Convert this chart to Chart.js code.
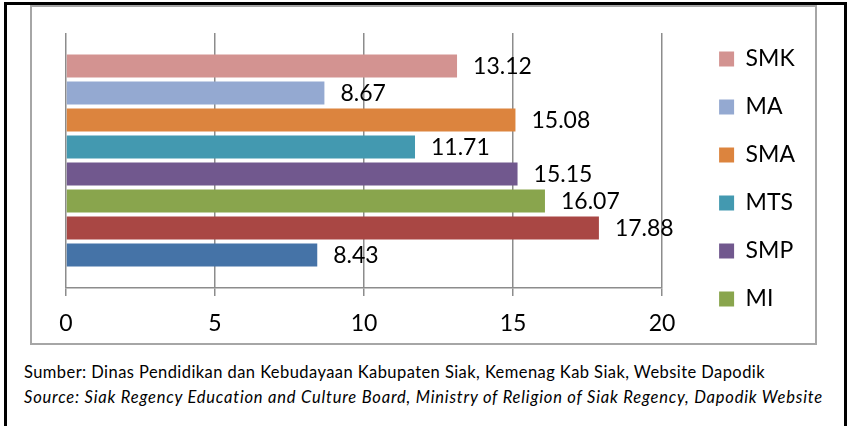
<!DOCTYPE html>
<html>
<head>
<meta charset="utf-8">
<script src="https://cdn.jsdelivr.net/npm/chart.js@4.4.1/dist/chart.umd.min.js"></script>
<style>
  html, body { margin: 0; padding: 0; background: #fff; }
  #page { position: relative; width: 849px; height: 426px; overflow: hidden; font-family: Lato, sans-serif; }
  #outer { position: absolute; left: 4px; top: 2px; width: 843px; height: 430px; box-sizing: border-box;
           border: 3px solid #000; }
  #frame { position: absolute; left: 30px; top: 5px; width: 787px; height: 340px; box-sizing: border-box;
           border: 2px solid #a6a6a6; }
  #wrap { position: absolute; left: 0; top: 0; width: 783px; height: 336px; }
  .note { position: absolute; left: 24px; white-space: nowrap; color: #000; font-size: 16.5px; }
  #src1 { top: 362px; letter-spacing: 0.43px; }
  #src2 { top: 387px; font-style: italic; letter-spacing: 0.8px; }
</style>
</head>
<body>
<div id="page">
  <div id="outer"></div>
  <div id="frame"><div id="wrap"><canvas id="chart"></canvas></div></div>
  <div class="note" id="src1">Sumber: Dinas Pendidikan dan Kebudayaan Kabupaten Siak, Kemenag Kab Siak, Website Dapodik</div>
  <div class="note" id="src2">Source: Siak Regency Education and Culture Board, Ministry of Religion of Siak Regency, Dapodik Website</div>
</div>
<script>
// series, top to bottom as drawn; the last two are not in the legend
const seriesNames = ['SMK', 'MA', 'SMA', 'MTS', 'SMP', 'MI', 'SD', 'TK'];
const seriesValues = [13.12, 8.67, 15.08, 11.71, 15.15, 16.07, 17.88, 8.43];
const seriesColors = ['#d39391', '#94a9d1', '#dc843e', '#4399b0', '#71588e', '#89a54d', '#a94744', '#4573a7'];
const legendCount = 6;
const xTicks = [0, 5, 10, 15, 20];

const font = 'Lato';
Chart.defaults.font.family = font;
Chart.defaults.color = '#000';

const gridColor = '#8c8c8c';

const barLabels = {
  id: 'barLabels',
  afterDatasetsDraw(chart) {
    const ctx = chart.ctx;
    ctx.save();
    ctx.font = '23px ' + font;
    ctx.fillStyle = '#000';
    ctx.textBaseline = 'middle';
    ctx.textAlign = 'left';
    chart.data.datasets.forEach((ds, i) => {
      chart.getDatasetMeta(i).data.forEach((bar, j) => {
        ctx.fillText(ds.data[j].toFixed(2), bar.x + 16, bar.y + 1);
      });
    });
    ctx.restore();
  }
};

const datasets = seriesNames.map((name, i) => ({
  label: name,
  data: [seriesValues[i]],
  backgroundColor: seriesColors[i],
  borderWidth: 0,
  categoryPercentage: 0.847,
  barPercentage: 0.85
}));

new Chart(document.getElementById('chart'), {
  type: 'bar',
  data: { labels: [''], datasets: datasets },
  options: {
    indexAxis: 'y',
    responsive: true,
    maintainAspectRatio: false,
    animation: false,
    layout: { padding: { left: 34, top: 8, right: 10, bottom: 0 } },
    plugins: {
      legend: {
        position: 'right',
        labels: {
          filter: item => item.datasetIndex < legendCount,
          boxWidth: 15,
          boxHeight: 15,
          padding: 25,
          font: { size: 23 },
          color: '#000'
        }
      },
      tooltip: { enabled: false }
    },
    scales: {
      x: {
        type: 'linear',
        min: xTicks[0],
        max: xTicks[xTicks.length - 1],
        afterBuildTicks: s => { s.ticks = xTicks.map(v => ({ value: v })); },
        afterFit: s => { s.height = 55; },
        grid: { color: gridColor, lineWidth: 1.5, drawTicks: true, tickLength: 8 },
        border: { display: true, color: gridColor, width: 1.5 },
        ticks: { font: { size: 23 }, padding: 14, color: '#000' }
      },
      y: { display: false },
      xTop: {
        type: 'linear',
        position: 'top',
        display: true,
        grid: { display: false },
        border: { display: false },
        ticks: { display: false },
        afterFit: s => { s.height = 18; }
      },
      yRight: {
        type: 'linear',
        position: 'right',
        display: true,
        grid: { display: false },
        border: { display: false },
        ticks: { display: false },
        afterFit: s => { s.width = 32; }
      }
    }
  },
  plugins: [barLabels]
});
</script>
</body>
</html>
